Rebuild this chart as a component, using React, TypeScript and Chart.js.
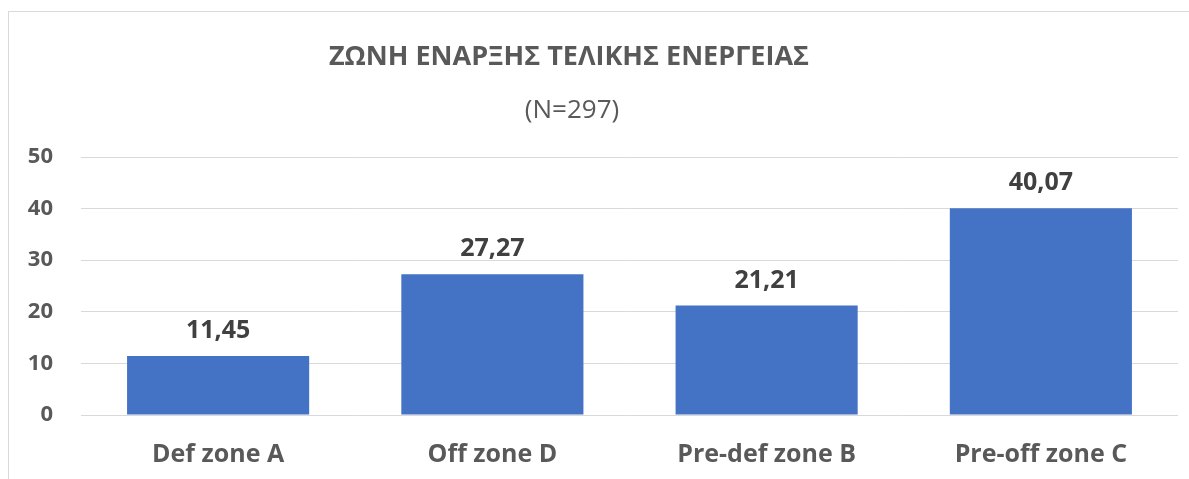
import React, { useEffect, useRef } from "react";
import { Chart, registerables } from "chart.js";

Chart.register(...registerables);

const categories = ["Def zone A", "Off zone D", "Pre-def zone B", "Pre-off zone C"];
const values = [11.45, 27.27, 21.21, 40.07];
const valueLabels = ["11,45", "27,27", "21,21", "40,07"];
const yTicks = [0, 10, 20, 30, 40, 50];
const titleText = "ΖΩΝΗ ΕΝΑΡΞΗΣ ΤΕΛΙΚΗΣ ΕΝΕΡΓΕΙΑΣ";
const subtitleText = "(N=297)";

const FONT = "'Open Sans', 'Noto Sans', sans-serif";

const titlePlugin = {
  id: "customTitle",
  afterDraw(chart: any) {
    const ctx = chart.ctx;
    ctx.save();
    ctx.textAlign = "center";
    ctx.textBaseline = "alphabetic";
    ctx.fillStyle = "#595959";
    ctx.font = `bold 27px ${FONT}`;
    ctx.fillText(titleText, 569, 65);
    ctx.font = `normal 26px ${FONT}`;
    ctx.fillText(subtitleText, 572, 118);
    ctx.restore();
  },
};

const dataLabelPlugin = {
  id: "dataLabels",
  afterDatasetsDraw(chart: any) {
    const ctx = chart.ctx;
    const meta = chart.getDatasetMeta(0);
    ctx.save();
    ctx.textAlign = "center";
    ctx.textBaseline = "alphabetic";
    ctx.fillStyle = "#404040";
    ctx.font = `bold 25px ${FONT}`;
    meta.data.forEach((bar: any, i: number) => {
      ctx.fillText(valueLabels[i], bar.x, bar.y - 18);
    });
    ctx.restore();
  },
};

export default function App() {
  const ref = useRef<HTMLCanvasElement | null>(null);
  useEffect(() => {
    if (!ref.current) return;
    const chart = new Chart(ref.current, {
      type: "bar",
      data: {
        labels: categories,
        datasets: [
          {
            data: values,
            backgroundColor: "#4472C4",
            borderWidth: 0,
            barPercentage: 0.664,
            categoryPercentage: 1,
          },
        ],
      },
      options: {
        animation: false,
        responsive: false,
        maintainAspectRatio: false,
        layout: { padding: { top: 157, left: 21, right: 11, bottom: 0 } },
        plugins: {
          legend: { display: false },
          tooltip: { enabled: false },
          title: { display: false },
        },
        scales: {
          x: {
            grid: { display: false, drawTicks: false },
            border: { display: false },
            ticks: {
              color: "#595959",
              font: { family: FONT, size: 25, weight: "bold" },
              padding: 25,
              maxRotation: 0,
              autoSkip: false,
            },
            afterFit: (s: any) => {
              s.height = 64;
            },
          },
          y: {
            min: 0,
            max: 50,
            afterBuildTicks: (s: any) => {
              s.ticks = yTicks.map((v) => ({ value: v }));
            },
            grid: { color: "#d9d9d9", lineWidth: 1, drawTicks: false },
            border: { display: false },
            ticks: {
              color: "#595959",
              font: { family: FONT, size: 22, weight: "bold" },
              padding: 28,
            },
            afterFit: (s: any) => {
              s.width = 60;
            },
          },
        },
      },
      plugins: [titlePlugin, dataLabelPlugin],
    });
    return () => chart.destroy();
  }, []);
  return (
    <div style={{ position: "fixed", left: 0, top: 0, width: 1189, height: 479, background: "#fff" }}>
      <canvas ref={ref} width={1189} height={479} style={{ display: "block" }} />
      <div
        style={{
          position: "absolute",
          left: 8,
          top: 11,
          width: 1300,
          height: 600,
          border: "1px solid #d9d9d9",
          pointerEvents: "none",
        }}
      />
    </div>
  );
}
